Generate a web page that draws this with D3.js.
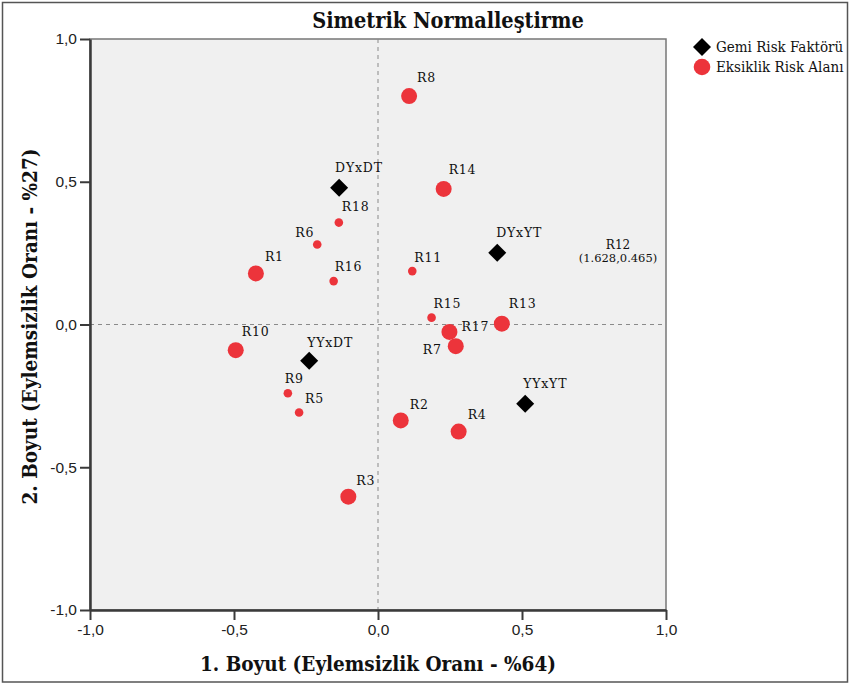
<!DOCTYPE html>
<html>
<head>
<meta charset="utf-8">
<script src="https://cdn.jsdelivr.net/npm/d3@7"></script>
<style>
  body { margin: 0; background: #fff; }
  svg { display: block; }
</style>
</head>
<body>
<div id="container"></div>
<script>
const w = 849;
const h = 684;

// Gemi Risk Faktörü (diamonds)
const factorNames = ['DYxDT', 'DYxYT', 'YYxDT', 'YYxYT'];
const factorX = [-0.135, 0.414, -0.239, 0.511];
const factorY = [0.479, 0.251, -0.127, -0.278];

// Eksiklik Risk Alanı (circles)
const areaNames = ['R1','R2','R3','R4','R5','R6','R7','R8','R9','R10','R11','R13','R14','R15','R16','R17','R18'];
const areaX = [-0.424, 0.079, -0.103, 0.280, -0.274, -0.211, 0.270, 0.108, -0.313, -0.494, 0.119, 0.430, 0.228, 0.186, -0.154, 0.248, -0.136];
const areaY = [0.179, -0.336, -0.603, -0.375, -0.308, 0.280, -0.076, 0.800, -0.241, -0.090, 0.187, 0.003, 0.475, 0.024, 0.152, -0.026, 0.357];
const areaWeight = [2, 2, 2, 2, 1, 1, 2, 2, 1, 2, 1, 2, 2, 1, 1, 2, 1];

// point outside the plotted range
const outName = 'R12';
const outX = 1.628;
const outY = 0.465;

const tickValues = [-1, -0.5, 0, 0.5, 1];
const title = 'Simetrik Normalleştirme';
const xTitle = '1. Boyut (Eylemsizlik Oranı - %64)';
const yTitle = '2. Boyut (Eylemsizlik Oranı - %27)';
const legendLabels = ['Gemi Risk Faktörü', 'Eksiklik Risk Alanı'];

// label placement relative to the mark [dx, dy, anchor]
const labelPlace = {
  DYxDT: [-4, -20, 'start'], DYxYT: [-1, -20, 'start'], YYxDT: [-2, -18, 'start'], YYxYT: [-2, -20, 'start'],
  R1: [9, -17, 'start'], R2: [9, -16, 'start'], R3: [8, -16, 'start'], R4: [9, -17, 'start'],
  R5: [6, -14, 'start'], R6: [-3, -12, 'end'], R7: [-14, 3, 'end'], R8: [8, -19, 'start'],
  R9: [-3, -15, 'start'], R10: [6, -19, 'start'], R11: [2, -14, 'start'], R13: [7, -20, 'start'],
  R14: [5, -19, 'start'], R15: [2, -14, 'start'], R16: [1, -15, 'start'], R17: [12, -5, 'start'],
  R18: [3, -16, 'start']
};

const red = '#ec343b';
const labelFont = "'DejaVu Serif', serif";
const titleFont = "'DejaVu Serif Condensed', 'DejaVu Serif', serif";

const locale = d3.formatLocale({decimal: ',', thousands: '.', grouping: [3], minus: '-'});
const fmt = locale.format('.1f');

const svg = d3.select('#container')
  .append('svg')
  .attr('width', w)
  .attr('height', h);

// outer frame
svg.append('rect')
  .attr('x', 2.5).attr('y', 2.5)
  .attr('width', w - 4).attr('height', h - 4.5)
  .attr('fill', 'none')
  .attr('stroke', '#555')
  .attr('stroke-width', 1.5);

const xScale = d3.scaleLinear().domain([-1, 1]).range([90, 666]);
const yScale = d3.scaleLinear().domain([-1, 1]).range([610, 39]);
const radius = d3.scaleOrdinal().domain([1, 2]).range([4.3, 8]);

svg.append('rect')
  .attr('x', xScale(-1)).attr('y', yScale(1))
  .attr('width', xScale(1) - xScale(-1))
  .attr('height', yScale(-1) - yScale(1))
  .attr('fill', '#f0f0f0')
  .attr('stroke', '#777')
  .attr('stroke-width', 1.5);

// reference lines
svg.append('line')
  .attr('x1', xScale(0)).attr('x2', xScale(0))
  .attr('y1', yScale(1)).attr('y2', yScale(-1))
  .attr('stroke', '#8a8a8a').attr('stroke-dasharray', '4,4');
svg.append('line')
  .attr('x1', xScale(-1)).attr('x2', xScale(1))
  .attr('y1', yScale(0)).attr('y2', yScale(0))
  .attr('stroke', '#8a8a8a').attr('stroke-dasharray', '4,4');

const xAxis = d3.axisBottom(xScale).tickValues(tickValues).tickFormat(fmt).tickSize(10).tickPadding(4);
const yAxis = d3.axisLeft(yScale).tickValues(tickValues).tickFormat(fmt).tickSize(10).tickPadding(3);

const styleAxis = g => {
  g.select('.domain').attr('stroke', '#3a3a3a').attr('stroke-width', 2.5);
  g.selectAll('.tick line').attr('stroke', '#3a3a3a').attr('stroke-width', 2);
  g.selectAll('.tick text')
    .attr('fill', '#222')
    .style('font-family', "'Liberation Sans', Arial, sans-serif")
    .style('font-size', '15.5px');
};

svg.append('g')
  .attr('transform', `translate(0,${yScale(-1)})`)
  .call(xAxis.tickSizeOuter(0))
  .call(styleAxis);
svg.append('g')
  .attr('transform', `translate(${xScale(-1)},0)`)
  .call(yAxis.tickSizeOuter(0))
  .call(styleAxis);

// circles
const areas = areaNames.map((n, i) => ({name: n, x: areaX[i], y: areaY[i], weight: areaWeight[i]}));
svg.selectAll('circle.area')
  .data(areas)
  .enter()
  .append('circle')
  .attr('class', 'area')
  .attr('cx', d => xScale(d.x))
  .attr('cy', d => yScale(d.y))
  .attr('r', d => radius(d.weight))
  .attr('fill', red);

// diamonds
const factors = factorNames.map((n, i) => ({name: n, x: factorX[i], y: factorY[i]}));
const diamond = d3.symbol().type(d3.symbolSquare).size(162);
svg.selectAll('path.factor')
  .data(factors)
  .enter()
  .append('path')
  .attr('class', 'factor')
  .attr('d', diamond)
  .attr('transform', d => `translate(${xScale(d.x)},${yScale(d.y)}) rotate(45)`)
  .attr('fill', '#000');

// point labels
svg.selectAll('text.pt')
  .data(factors.concat(areas))
  .enter()
  .append('text')
  .attr('class', 'pt')
  .attr('x', d => xScale(d.x) + labelPlace[d.name][0])
  .attr('y', d => yScale(d.y) + labelPlace[d.name][1])
  .attr('text-anchor', d => labelPlace[d.name][2])
  .attr('dominant-baseline', 'central')
  .style('font-family', labelFont)
  .style('font-size', '12.5px')
  .style('letter-spacing', '0.8px')
  .attr('fill', '#111')
  .text(d => d.name);

// out-of-range annotation
const outLabel = svg.append('text')
  .attr('x', xScale(1) - 48)
  .attr('y', yScale(0.265))
  .attr('text-anchor', 'middle')
  .style('font-family', labelFont)
  .style('font-size', '11.5px')
  .attr('fill', '#111');
outLabel.append('tspan').attr('x', xScale(1) - 48).attr('dy', 0)
  .style('font-size', '12px').text(outName);
outLabel.append('tspan').attr('x', xScale(1) - 48).attr('dy', 13)
  .text(`(${outX},${outY})`);

// titles
svg.append('text')
  .attr('x', 448)
  .attr('y', 28)
  .attr('text-anchor', 'middle')
  .style('font-family', titleFont)
  .style('font-weight', 'bold')
  .style('font-size', '21.5px')
  .attr('fill', '#111')
  .text(title);

svg.append('text')
  .attr('x', xScale(0))
  .attr('y', 671)
  .attr('text-anchor', 'middle')
  .style('font-family', titleFont)
  .style('font-weight', 'bold')
  .style('font-size', '20.5px')
  .attr('fill', '#111')
  .text(xTitle);

svg.append('text')
  .attr('transform', `translate(37,${yScale(0) + 2}) rotate(-90)`)
  .attr('text-anchor', 'middle')
  .style('font-family', titleFont)
  .style('font-weight', 'bold')
  .style('font-size', '20.5px')
  .attr('fill', '#111')
  .text(yTitle);

// legend
const legend = svg.append('g').attr('transform', 'translate(702,47)');
legend.append('path')
  .attr('d', diamond)
  .attr('transform', 'rotate(45)')
  .attr('fill', '#000');
legend.append('circle')
  .attr('cx', 0).attr('cy', 20)
  .attr('r', 8.3)
  .attr('fill', red);
legend.selectAll('text')
  .data(legendLabels)
  .enter()
  .append('text')
  .attr('x', 14)
  .attr('y', (d, i) => i * 20)
  .attr('dominant-baseline', 'central')
  .style('font-family', titleFont)
  .style('font-size', '15px')
  .attr('fill', '#111')
  .text(d => d);
</script>
</body>
</html>
